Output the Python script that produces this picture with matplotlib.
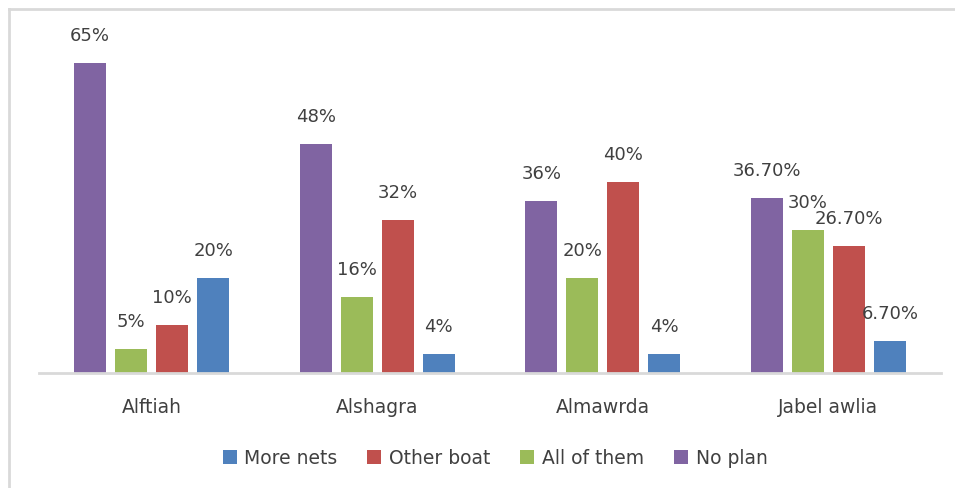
import matplotlib
matplotlib.use('Agg')
import matplotlib.pyplot as plt
from matplotlib.lines import Line2D
import numpy as np

# data
places = ['Alftiah', 'Alshagra', 'Almawrda', 'Jabel awlia']
series = ['No plan', 'All of them', 'Other boat', 'More nets']
no_plan = [0.65, 0.48, 0.36, 0.367]
all_of_them = [0.05, 0.16, 0.20, 0.30]
other_boat = [0.10, 0.32, 0.40, 0.267]
more_nets = [0.20, 0.04, 0.04, 0.067]
labels = [['65%', '48%', '36%', '36.70%'],
          ['5%', '16%', '20%', '30%'],
          ['10%', '32%', '40%', '26.70%'],
          ['20%', '4%', '4%', '6.70%']]
colors = ['#8064A2', '#9BBB59', '#C0504D', '#4F81BD']

W, H = 955, 488
fig = plt.figure(figsize=(W / 100, H / 100), dpi=100)
ax = fig.add_axes([39 / W, (H - 373) / H, 902 / W, 334 / H])

x = np.arange(len(places))
step = 0.182
width = 0.142
txt = '#404040'

bars = {}
for i, (name, vals) in enumerate(zip(series, [no_plan, all_of_them, other_boat, more_nets])):
    b = ax.bar(x + (i - 1.5) * step, vals, width, color=colors[i], label=name, zorder=2)
    bars[name] = b
    for rect, lab in zip(b, labels[i]):
        ax.annotate(lab, (rect.get_x() + rect.get_width() / 2, rect.get_height()),
                    xytext=(0, 13), textcoords='offset points',
                    ha='center', va='bottom', fontsize=13, color=txt)

ax.set_xlim(-0.5, len(places) - 0.5)
ax.set_ylim(0, 0.70)
ax.set_yticks([])
ax.set_xticks(x)
ax.set_xticklabels(places, fontsize=13.5, color=txt)
ax.tick_params(axis='x', length=0, pad=18)
for s in ['top', 'right', 'left']:
    ax.spines[s].set_visible(False)
ax.spines['bottom'].set_color('#D9D9D9')
ax.spines['bottom'].set_linewidth(2)

order = ['More nets', 'Other boat', 'All of them', 'No plan']
handles = [bars[n] for n in order]
fig.legend(handles, order, loc='center', bbox_to_anchor=(495 / W, (H - 458) / H),
           ncol=4, frameon=False, fontsize=13.5, labelcolor=txt,
           handlelength=0.75, handleheight=0.75, handletextpad=0.4, columnspacing=1.6)

# chart border (top and left only visible)
fig.add_artist(Line2D([9 / W, 9 / W], [0, (H - 9) / H], color='#D9D9D9', lw=2, transform=fig.transFigure))
fig.add_artist(Line2D([9 / W, 1], [(H - 9) / H, (H - 9) / H], color='#D9D9D9', lw=2, transform=fig.transFigure))

fig.savefig('out.png', dpi=100)
